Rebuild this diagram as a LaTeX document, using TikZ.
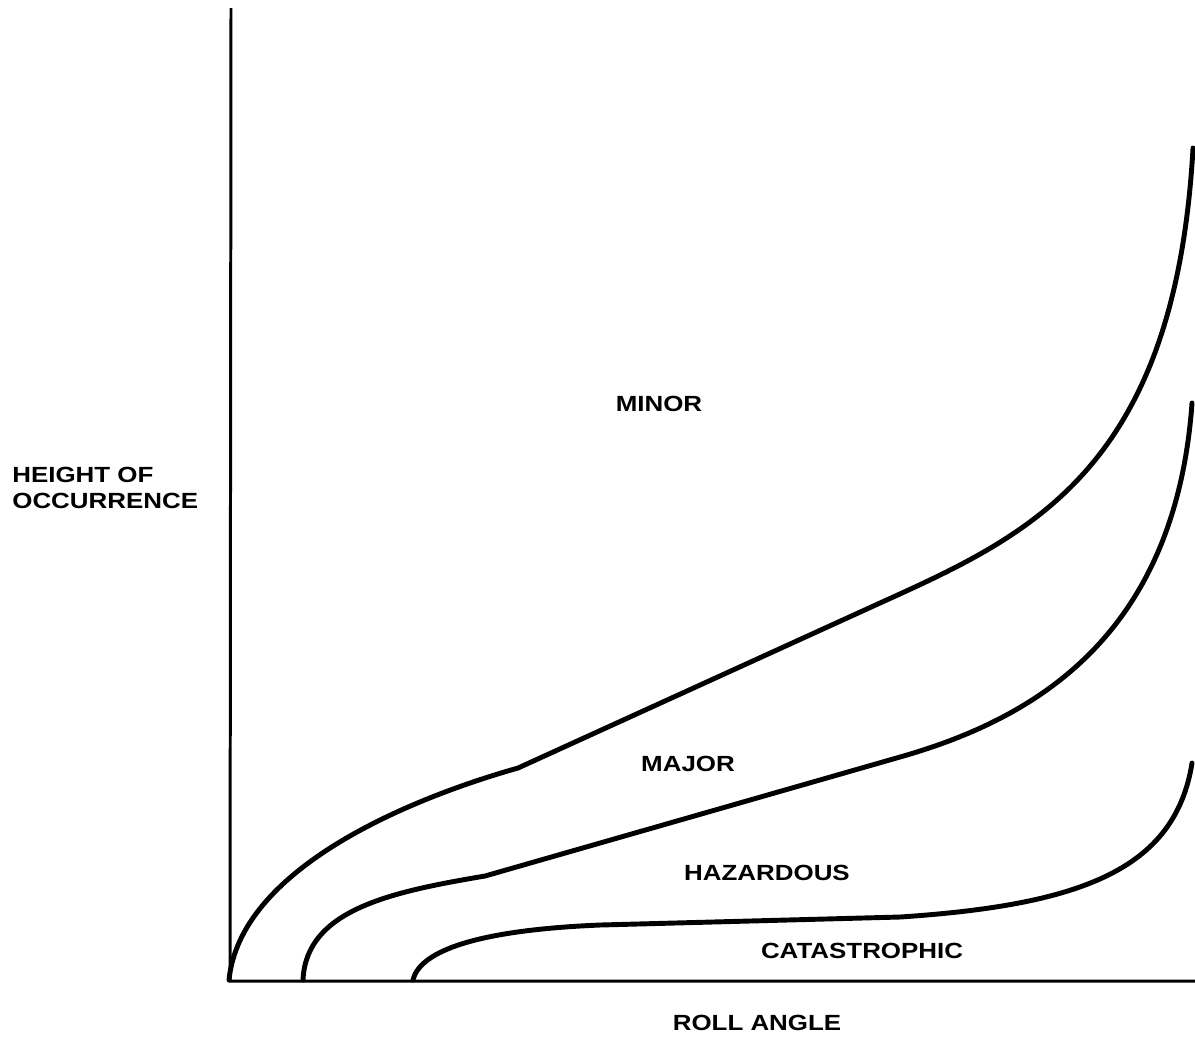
\documentclass[tikz,border=0pt]{standalone}
\usepackage{fontspec}
\setmainfont{Liberation Sans}[FakeStretch=1.18]
\usepackage{tikz}
\usetikzlibrary{positioning}

\begin{document}
\begin{tikzpicture}[x=0.02cm,y=-0.02cm]
\tikzstyle{every node}=[inner sep=0pt,font=\fontsize{12.5}{15}\selectfont\bfseries]
\tikzstyle{axis}=[line width=1.7pt]
\tikzstyle{limit}=[line width=2.8pt,line cap=round]

\useasboundingbox (0,0) rectangle (1195,1039);

\coordinate (top) at (231,8);
\coordinate (origin) at (230,981);
\coordinate (right) at (1195,981);
\draw[axis] (top) -- (origin) -- (right);

% minor / major
\draw[limit] (229,980) .. controls (240,870) and (405,800) .. (518,768)
  -- (880,603) .. controls (1030,535) and (1175,470) .. (1193,148);
% major / hazardous
\draw[limit] (303,980) .. controls (306,910) and (390,892) .. (485,876)
  -- (900,757) .. controls (1030,720) and (1175,640) .. (1192,403);
% hazardous / catastrophic
\draw[limit] (413,980) .. controls (420,950) and (480,930) .. (600,925)
  -- (900,917) .. controls (1080,905) and (1175,870) .. (1192,763);

\node[anchor=base] (minor) at (659,411) {MINOR};
\node[anchor=base] (major) at (688,771) {MAJOR};
\node[anchor=base] (hazardous) at (767,880) {HAZARDOUS};
\node[anchor=base] (catastrophic) at (862,958) {CATASTROPHIC};
\node[anchor=base] (rollangle) at (757,1030) {ROLL ANGLE};
\node[anchor=base west] (heightof) at (12,482) {HEIGHT OF};
\node[anchor=base west] (occurrence) at (12,508) {OCCURRENCE};
\end{tikzpicture}
\end{document}
